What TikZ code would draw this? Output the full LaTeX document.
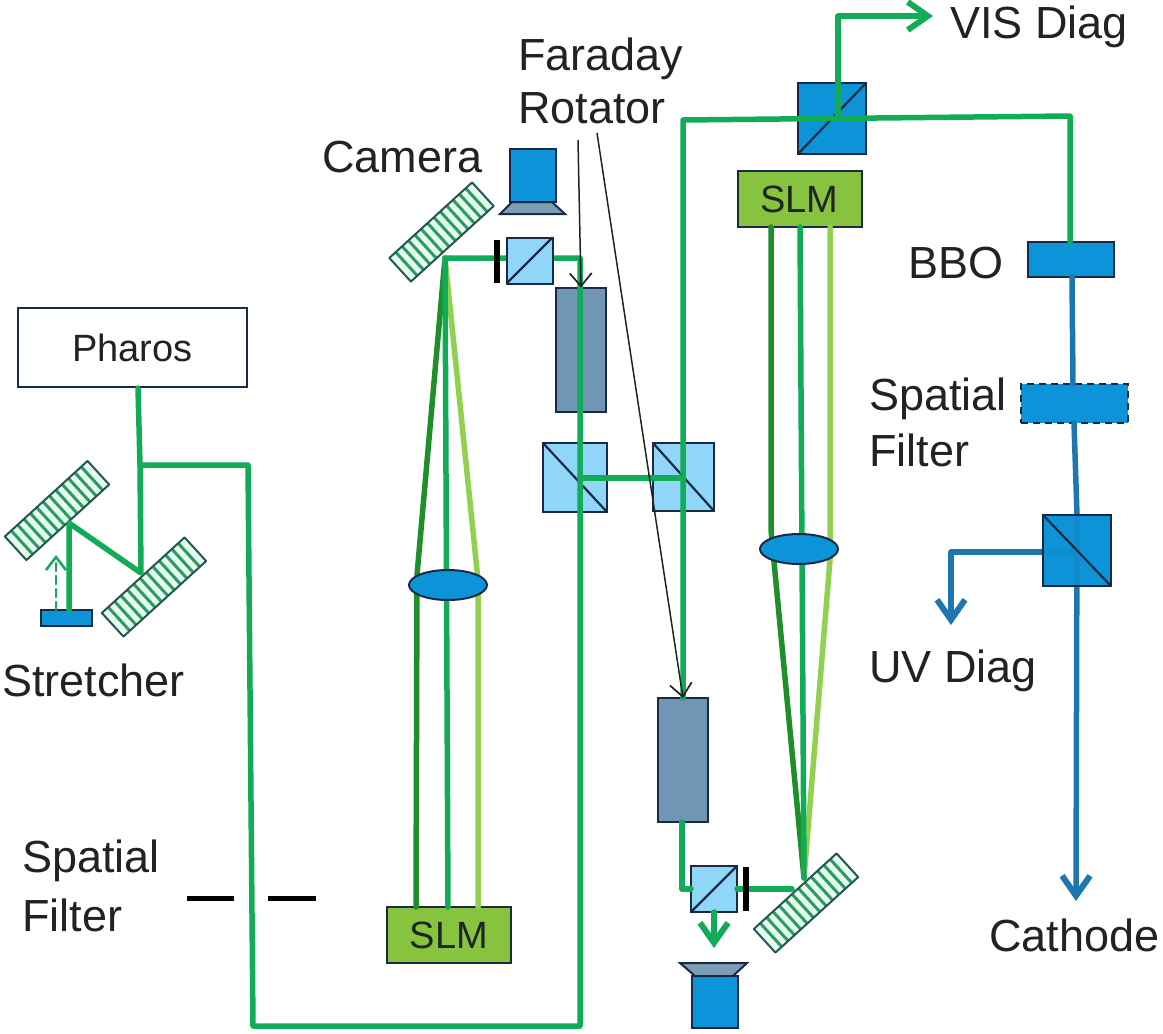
\documentclass[tikz,border=0pt]{standalone}
\usepackage{fontspec}
\setmainfont{Liberation Sans}
\usetikzlibrary{arrows.meta,shapes.geometric,calc}
\definecolor{beamg}{HTML}{12AB57}
\definecolor{beamd}{HTML}{1E8F2A}
\definecolor{beaml}{HTML}{92D050}
\definecolor{beamb}{HTML}{1F76AE}
\definecolor{edgec}{HTML}{1B2A44}
\definecolor{cubel}{HTML}{8FD6F8}
\definecolor{blued}{HTML}{0D94D8}
\definecolor{farad}{HTML}{6F96B4}
\definecolor{slmg}{HTML}{86C440}
\definecolor{mint}{HTML}{E4FCEE}
\definecolor{stripe}{HTML}{2E9A62}
\definecolor{txt}{HTML}{222222}
\definecolor{trapc}{HTML}{7D9DB5}
\newcommand\gratingstripes[1]{%
  \foreach \i in {1,...,12}{
    \pgfmathsetmacro\t{\i/13}
    \draw[stripe,line width=3pt] ($(#1.south west)!\t!(#1.south east)$) -- ($(#1.north west)!\t!(#1.north east)$);
  }
  \draw[draw=edgec!60!stripe,line width=2pt,line join=round] (#1.north west) -- (#1.north east) -- (#1.south east) -- (#1.south west) -- cycle;
}
\tikzset{
 x=1pt,y=-1pt,
 box/.style={draw=edgec,line width=2pt,inner sep=0pt,outer sep=0pt},
 cube/.style={box,fill=cubel,minimum size=#1},
 bluebox/.style={box,fill=blued},
 rotator/.style={box,fill=farad,minimum width=50,minimum height=124},
 slm/.style={box,fill=slmg,minimum width=124,minimum height=56,font=\fontsize{38}{40}\selectfont,text=txt},
 lens/.style={box,fill=blued,ellipse,minimum width=78,minimum height=30},
 grating/.style={inner sep=0pt,outer sep=0pt,fill=mint,minimum width=112,minimum height=32,rotate=#1},
 beam/.style={beamg,line width=5.5pt,line cap=round,line join=round},
 beamdark/.style={beamd,line width=5.5pt,line cap=round,line join=round},
 beamlight/.style={beaml,line width=5.5pt,line cap=round,line join=round},
 beamblue/.style={beamb,line width=5.5pt,line cap=round,line join=round},
 pointer/.style={draw=txt,line width=1.5pt,-{Straight Barb[length=13pt,width=22pt,line width=1.7pt]}},
 stop/.style={draw=black,line width=6pt},
 filterbar/.style={draw=black,line width=5pt},
 lbl/.style={font=\fontsize{45}{52}\selectfont,text=txt,anchor=west,inner sep=0pt,align=left},
 split/.style={edgec,line width=2.2pt},
 openarrow/.style={-{Straight Barb[length=20pt,width=28pt,line width=6pt]}},
}
\begin{document}
\begin{tikzpicture}
\useasboundingbox (0,0) rectangle (1163,1034);
% --- labels
\node[lbl] (tFaraday) at (518,59) {Faraday};
\node[lbl] (tRotator) at (518,108) {Rotator};
\node[lbl] (tVis) at (950,27) {VIS Diag};
\node[lbl] (tCamera) at (322,157) {Camera};
\node[lbl] (tBBO) at (908,263) {BBO};
\node[lbl] (tSF1) at (869,399) {Spatial};
\node[lbl] (tF1) at (869,450) {Filter};
\node[lbl] (tUV) at (869,671) {UV Diag};
\node[lbl] (tCath) at (989,935) {Cathode};
\node[lbl] (tStr) at (2,680) {Stretcher};
\node[lbl] (tSF2) at (22,861) {Spatial};
\node[lbl] (tF2) at (22,915) {Filter};
% --- source
\node[draw=edgec,line width=2pt,fill=white,minimum width=229,minimum height=79,inner sep=0pt,font=\fontsize{38}{40}\selectfont,text=txt] (pharos) at (132.5,347.5) {Pharos};
% --- gratings
\node[grating=42.4] (g1) at (57,510.5) {};
\node[grating=42.4] (g2) at (154,587) {};
\node[grating=42.4] (g3) at (441.5,232) {};
\node[grating=42.4] (g4) at (806,903) {};
\gratingstripes{g1}
\gratingstripes{g2}
\gratingstripes{g3}
\gratingstripes{g4}
% --- cubes and crystals
\node[box,fill=cubel,minimum width=64,minimum height=69] (c2) at (575,477.5) {};
\node[box,fill=cubel,minimum width=61,minimum height=68] (c3) at (683.5,477) {};
\node[box,fill=blued,minimum width=68,minimum height=71] (c5) at (832,118.5) {};
\node[box,fill=blued,minimum width=68,minimum height=71] (c6) at (1077,550.5) {};
\node[rotator] (f1) at (581,349.5) {};
\node[rotator] (f2) at (683,760) {};
\node[box,fill=blued,minimum width=51,minimum height=16] (strmir) at (66.5,618) {};
\node[bluebox,minimum width=86,minimum height=35] (bbo) at (1071,259.5) {};
\node[bluebox,dashed,dash pattern=on 7pt off 5pt,minimum width=107,minimum height=39] (sf) at (1074.5,403.5) {};
\node[slm] (slm1) at (449,935) {SLM};
\node[slm] (slm2) at (799.5,199) {SLM};
% --- cameras
\node[bluebox,minimum width=46,minimum height=53] (cam1) at (533,175.5) {};
\node[bluebox,minimum width=46,minimum height=52] (cam2) at (715,1002) {};
\filldraw[draw=edgec,line width=2pt,fill=trapc] ([xshift=-21pt]cam1.south) -- ([xshift=19pt]cam1.south) -- ++(13,12) -- ([xshift=-33pt,yshift=-12pt]cam1.south) -- cycle;
\filldraw[draw=edgec,line width=2pt,fill=trapc] ([xshift=-20pt]cam2.north) -- ([xshift=18pt]cam2.north) -- ++(14,-13) -- ([xshift=-35pt,yshift=13pt]cam2.north) -- cycle;
% --- diagonals under the beams
\draw[split] (c2.north west) -- (c2.south east);
\draw[split] (c3.north west) -- (c3.south east);
\draw[split] (c5.south west) -- (c5.north east);
% --- waypoints
\coordinate (a1) at (140,465);
\coordinate (a2) at (141,573);
\coordinate (a3) at (69,523);
\coordinate (a4) at (69,610);
\coordinate (b1) at (248,465);
\coordinate (b2) at (253,1026);
\coordinate (b3) at (580,1026);
\coordinate (b4) at (580,258);
\coordinate (b5) at (445,258);
\coordinate (d1) at (683,120);
\coordinate (d2) at (1070,116);
\coordinate (d0) at (838,118);
\coordinate (d3) at (838,16);
\coordinate (d4) at (933,16);
\coordinate (e1) at (580,478);
\coordinate (e2) at (683,478);
\coordinate (h1) at (682,822);
\coordinate (h2) at (682,889);
\coordinate (h3) at (792,889);
\coordinate (k0) at (804,878);
\coordinate (k1) at (771,530);
\coordinate (k2) at (830,560);
\coordinate (m1) at (417,575);
\coordinate (m2) at (478,580);
\coordinate (n1) at (1077,552);
\coordinate (n2) at (951,552);
\coordinate (n3) at (951,625);
\coordinate (n4) at (1076,901);
% --- beams
\draw[beam] (pharos.south -| 138,0) -- (a1) -- (a2) -- (a3) -- (a4);
\draw[beam] (a1) -- (b1) -- (b2) -- (b3) -- (b4) -- (b5);
\draw[beam] (e1) -- (e2);
\draw[beam] (f2.north -| d1) -- (d1) -- (d2) -- (bbo.north -| d2);
\draw[beam,openarrow] (d0) -- (d3) -- (d4);
\node[cube=46] (c1) at (529.5,260.5) {};
\node[cube=46] (c4) at (714,889) {};
\draw[beam] (f2.south -| h1) -- (h2) -- (c4.west);
\draw[beam] (c4.east) -- (h3);
\draw[beam,openarrow] (c4.south) -- ++(0,36);
\draw[beamdark] (b5) -- (m1) -- (slm1.north -| 416,0);
\draw[beamlight] (b5) -- (m2) -- (slm1.north -| m2);
\draw[beam] (b5) -- (slm1.north -| 448,0);
\draw[beamdark] (slm2.south -| k1) -- (k1) -- (k0);
\draw[beamlight] (slm2.south -| k2) -- (k2) -- (k0);
\draw[beam] (slm2.south -| 800,0) -- (k0);
\draw[beam,line width=2.5pt,dash pattern=on 8pt off 5pt,-{Straight Barb[length=13pt,width=20pt,line width=2.5pt]}] (strmir.north -| 56,0) -- (56,555);
\draw[beamblue] (bbo.south -| 1072,0) -- (sf.north -| 1073,0);
\draw[beamblue] (sf.south -| 1074,0) -- (c6.north);
\draw[beamblue,openarrow] (n1) -- (n2) -- (n3);
\draw[beamblue,openarrow] (c6.north) -- (n4);
% --- blue cube glazes the beams inside it
\fill[blued,opacity=.72] (c6.south west) rectangle (c6.north east);
\draw[draw=edgec,line width=2pt] (c6.south west) rectangle (c6.north east);
% --- lenses on top of the beams
\node[lens] (l1) at (448,585) {};
\node[lens] (l2) at (799,549) {};
% --- cube diagonals
\draw[split] (c1.south west) -- (c1.north east);
\draw[split] (c4.south west) -- (c4.north east);
\draw[split] (c6.north west) -- (c6.south east);
% --- stops
\draw[stop] ([xshift=-33pt,yshift=-22pt]c1.center) -- ([xshift=-33pt,yshift=21pt]c1.center);
\draw[stop] ([xshift=32pt,yshift=-22pt]c4.center) -- ([xshift=32pt,yshift=22pt]c4.center);
% --- spatial filter
\coordinate (s1) at (187,898);
\coordinate (s2) at (234,898);
\coordinate (s3) at (268,898);
\coordinate (s4) at (316,898);
\draw[filterbar] (s1) -- (s2);
\draw[filterbar] (s3) -- (s4);
% --- pointers
\coordinate (p1) at (578,140);
\coordinate (p2) at (597,133);
\draw[pointer] (p1) -- (f1.north);
\draw[pointer] (p2) -- (f2.north);
\end{tikzpicture}
\end{document}
